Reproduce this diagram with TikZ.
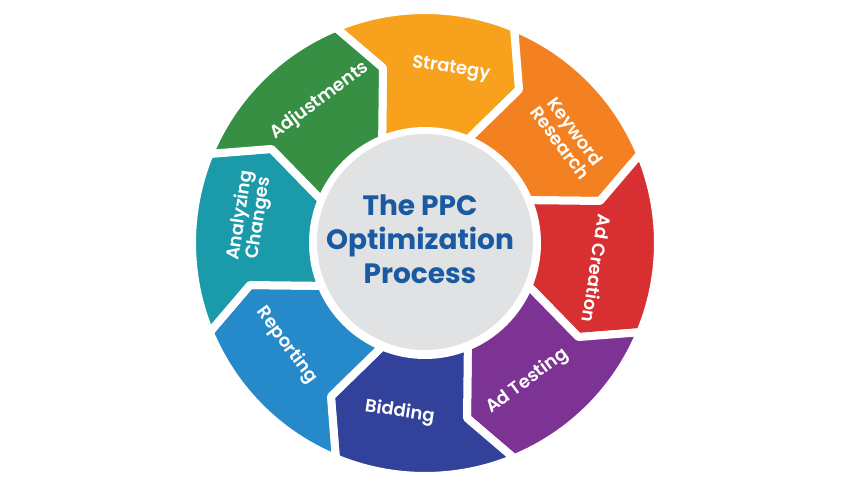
\documentclass[tikz,border=0pt]{standalone}
\usepackage{fontspec}
\setmainfont{Poppins}
\newfontfamily\segfont{Poppins SemiBold}
\newfontfamily\titlefont{Poppins Bold}
\definecolor{strategy}{HTML}{F7A11C}
\definecolor{keyword}{HTML}{F38021}
\definecolor{creation}{HTML}{D72F32}
\definecolor{testing}{HTML}{7C3393}
\definecolor{bidding}{HTML}{32419A}
\definecolor{reporting}{HTML}{2589CA}
\definecolor{analyzing}{HTML}{1B9AA9}
\definecolor{adjust}{HTML}{378F44}
\definecolor{hub}{HTML}{E1E2E3}
\definecolor{titleblue}{HTML}{1A5AA3}
\usetikzlibrary{positioning}

\begin{document}
\begin{tikzpicture}[
		x=1pt, y=1pt,
		segment/.pic={\path[pic actions] (22.5:233) arc[start angle=22.5, end angle=-22.5, radius=233] -- (-31.5:180) -- (-22.5:112) arc[start angle=-22.5, end angle=22.5, radius=112] -- (13.5:180) -- cycle;},
		ring/.style={draw=white, line width=8, line join=round},
		seglabel/.style={text=white, font=\segfont\fontsize{18}{19}\selectfont, align=center},
	]
	\useasboundingbox (-425,-234) rectangle (423,243);

	\pic (strat) [ring, fill=strategy, rotate=90] at (0,0) {segment};
	\pic (kw) [ring, fill=keyword, rotate=45] at (0,0) {segment};
	\pic (adc) [ring, fill=creation, rotate=0] at (0,0) {segment};
	\pic (adt) [ring, fill=testing, rotate=-45] at (0,0) {segment};
	\pic (bid) [ring, fill=bidding, rotate=-90] at (0,0) {segment};
	\pic (rep) [ring, fill=reporting, rotate=-135] at (0,0) {segment};
	\pic (ana) [ring, fill=analyzing, rotate=180] at (0,0) {segment};
	\pic (adj) [ring, fill=adjust, rotate=135] at (0,0) {segment};

	\node (hub) [circle, fill=hub, minimum size=216, inner sep=0] at (0,1) {};
	\node (title) [text=titleblue, font=\titlefont\fontsize{28}{34}\selectfont, align=center] at (-5,4) {The PPC\\Optimization\\Process};

	\node (strategy) [seglabel, rotate=-8.5] at (81.5:176) {Strategy};
	\node (keyword) [seglabel, rotate=-53.5] at (36.5:178) {Keyword\\Research};
	\node (creation) [seglabel, rotate=-98.5] at (-8.5:174) {Ad Creation};
	\node (testing) [seglabel, rotate=36.5] at (-53.5:172) {Ad Testing};
	\node (bidding) [seglabel, rotate=-8.5] at (-98.5:171) {Bidding};
	\node (reporting) [seglabel, rotate=-53.5] at (-143.5:172) {Reporting};
	\node (analyzing) [seglabel, rotate=81.5] at (171.5:177) {Analyzing\\Changes};
	\node (adjust) [seglabel, rotate=36.5] at (126.5:177) {Adjustments};
\end{tikzpicture}
\end{document}
